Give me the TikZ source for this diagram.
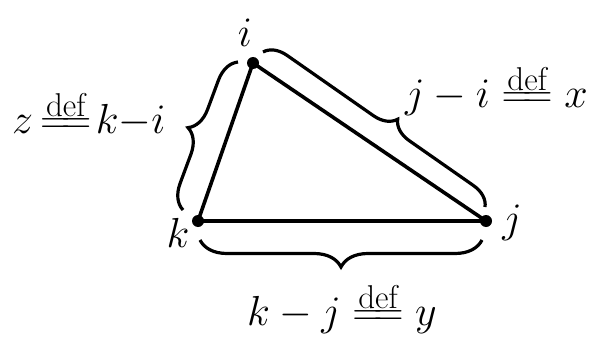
\RequirePackage{fix-cm}
\documentclass[tikz,border=0pt]{standalone}
\usetikzlibrary{decorations.pathreplacing,calc}
\newcommand{\mydefeq}{\mathrel{\stackrel{\mbox{\fontsize{33}{35}\selectfont def}}{=\mkern-4mu=}}}
\begin{document}
\begin{tikzpicture}[x=1pt,y=-1pt,
  edge/.style={line width=3.6pt,line join=round},
  vdot/.style={circle,fill,inner sep=0pt,minimum size=12pt},
  bracedec/.style={line width=3.2pt,decorate,decoration={brace,amplitude=#1}},
  lbl/.style={font=\fontsize{42}{50}\selectfont,inner sep=0pt}]
\useasboundingbox (0,0) rectangle (599,337);
\node[vdot] (i) at (253,63) {};
\node[vdot] (k) at (198,221) {};
\node[vdot] (j) at (486,221) {};
\draw[edge] (i.center) -- (k.center) -- (j.center) -- cycle;
\coordinate (l1) at (183,210);
\coordinate (l2) at (238,62);
\draw[bracedec=24] (l1) -- (l2);
\coordinate (r1) at (263,52);
\coordinate (r2) at (485,207);
\draw[bracedec=22,decoration={aspect=0.55}] (r1) -- (r2);
\coordinate (b1) at (482,240);
\coordinate (b2) at (200,240);
\draw[bracedec=27] (b1) -- (b2);
\node[lbl,anchor=base] (li) at (245,47) {$i$};
\node[lbl,anchor=base] (lk) at (178,247) {$k$};
\node[lbl,anchor=base] (lj) at (512,232) {$j$};
\node[lbl,anchor=base west] (lz) at (12,133) {$z\mkern-2mu\mydefeq\mkern-3mu k{-}i$};
\node[lbl,anchor=base west] (lx) at (405,107) {$j-i\mydefeq x$};
\node[lbl,anchor=base west] (ly) at (247,325) {$k-j\mydefeq y$};
\end{tikzpicture}
\end{document}
